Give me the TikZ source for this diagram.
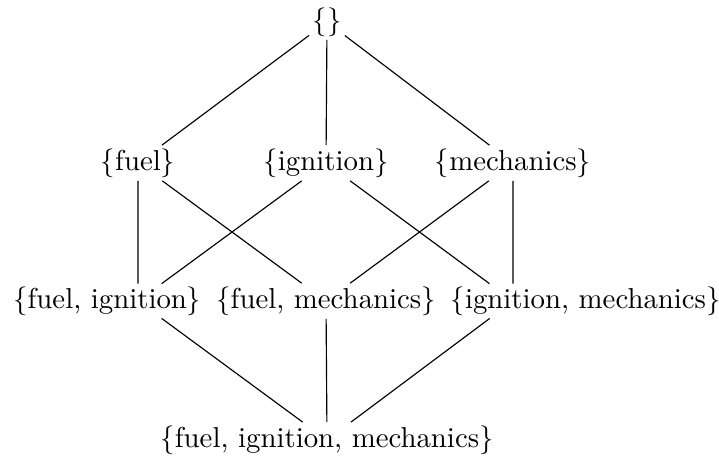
\documentclass[tikz,border=0pt]{standalone}
\usetikzlibrary{positioning,calc}
\begin{document}
\begin{tikzpicture}[x=0.3472pt,y=-0.3472pt,
    set/.style={inner sep=1pt}]
  \useasboundingbox (0,0) rectangle (719,462);

  % Top: the empty set
  \node[set] (E) at (327,22) {$\{\}$};

  % Second row: the singletons
  \node[set] (F) at (138,163) {$\{$fuel$\}$};
  \node[set] (I) at (326,163) {$\{$ignition$\}$};
  \node[set] (M) at (513,163) {$\{$mechanics$\}$};

  % Third row: the pairs, packed side by side
  \node[set] (FM) at (326,301) {$\{$fuel, mechanics$\}$};
  \node[set, left=2.8pt of FM] (FI) {$\{$fuel, ignition$\}$};
  \node[set, right=2.8pt of FM] (IM) {$\{$ignition, mechanics$\}$};

  % Bottom: the full set
  \node[set] (FIM) at (327,440) {$\{$fuel, ignition, mechanics$\}$};

  % the outer pairs are joined under the singleton columns
  \coordinate (FIhub) at (F |- FM);
  \coordinate (IMhub) at (M |- FM);

  % Empty set to the singletons
  \draw (E) -- (F);
  \draw (E) -- (I);
  \draw (E) -- (M);

  % Singletons to the pairs
  \draw (F) -- ($(F)!0.874!(FIhub)$);
  \draw (F) -- (FM);
  \draw (I) -- ($(I)!0.874!(FIhub)$);
  \draw (I) -- ($(I)!0.874!(IMhub)$);
  \draw (M) -- (FM);
  \draw (M) -- ($(M)!0.874!(IMhub)$);

  % Pairs to the full set
  \draw ($(FIhub)!0.125!(FIM)$) -- (FIM);
  \draw (FM) -- (FIM);
  \draw ($(IMhub)!0.125!(FIM)$) -- (FIM);
\end{tikzpicture}
\end{document}
